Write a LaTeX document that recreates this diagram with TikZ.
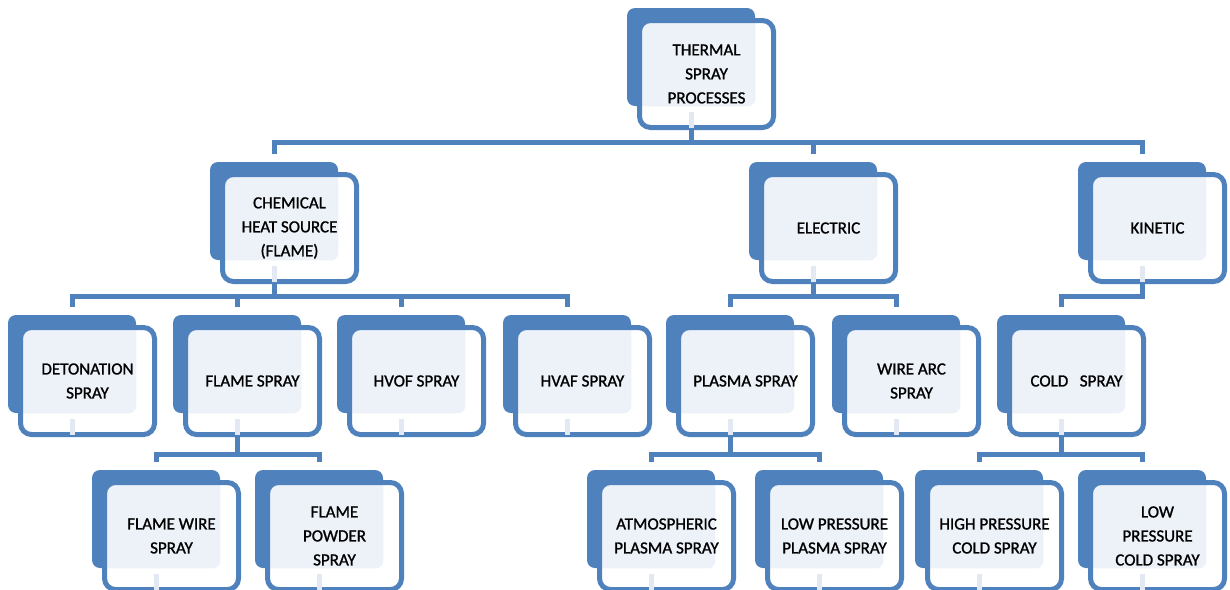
\documentclass[tikz,border=0pt]{standalone}
\usepackage{fontspec}
\setmainfont{Carlito}[FakeBold=1.2]
\usepackage{tikz}
\usetikzlibrary{calc}
\definecolor{boxblue}{HTML}{4F81BD}
\definecolor{boxlight}{HTML}{EDF2F9}
\definecolor{boxghost}{HTML}{E2E9F3}
\tikzset{
  backbox/.style={rectangle, fill=boxblue, rounded corners=4pt,
    minimum width=64pt, minimum height=49pt, inner sep=0pt},
  frontbox/.style={rectangle, draw=boxblue, line width=2.5pt, fill=white,
    rounded corners=5.5pt, minimum width=67pt, minimum height=53.5pt,
    inner sep=0pt, align=center, font=\fontsize{8.5}{12}\selectfont},
  conn/.style={draw=boxblue, line width=2.5pt},
}
% name, left, top (of the back box), text
\newcommand{\tsbox}[4]{%
  \node[backbox] (#1-b) at ({#2+64},{#3+49}) {};
  \node[frontbox, path picture={\fill[boxlight, rounded corners=4pt]
    (#1-b.south west) rectangle (#1-b.north east);}]
    (#1) at ({#2+79.5},{#3+66}) {#4};
  \draw[conn, draw=boxghost] ($(#1-b.south)+(0,6)$) -- ($(#1-b |- #1.south)+(0,-2.5)$);
}

\begin{document}
\begin{tikzpicture}[x=0.5pt, y=-0.5pt]
    \useasboundingbox (0,0) rectangle (1230,589);

    \tsbox{tsp}{627}{8}{THERMAL\\SPRAY\\PROCESSES}

    \tsbox{chem}{210}{162}{CHEMICAL\\HEAT SOURCE\\(FLAME)}
    \tsbox{elec}{749}{162}{ELECTRIC}
    \tsbox{kin}{1078}{162}{KINETIC}

    \tsbox{deton}{8}{315}{DETONATION\\SPRAY}
    \tsbox{flame}{173}{315}{FLAME SPRAY}
    \tsbox{hvof}{337}{315}{HVOF SPRAY}
    \tsbox{hvaf}{503}{315}{HVAF SPRAY}
    \tsbox{plasma}{666}{315}{PLASMA SPRAY}
    \tsbox{wirearc}{832}{315}{WIRE ARC\\SPRAY}
    \tsbox{cold}{997}{315}{COLD\ \ \ SPRAY}

    \tsbox{fwire}{92}{470}{FLAME WIRE\\SPRAY}
    \tsbox{fpowder}{255}{470}{FLAME\\POWDER\\SPRAY}
    \tsbox{aps}{587}{470}{ATMOSPHERIC\\PLASMA SPRAY}
    \tsbox{lpps}{755}{470}{LOW PRESSURE\\PLASMA SPRAY}
    \tsbox{hpcs}{915}{470}{HIGH PRESSURE\\COLD SPRAY}
    \tsbox{lpcs}{1078}{470}{LOW\\PRESSURE\\COLD SPRAY}

    % connectors
    \draw[conn] (tsp-b |- tsp.south) -- ++(0,12) -| ([yshift=4pt]chem-b.north);
    \draw[conn] (tsp-b |- tsp.south) -- ++(0,12) -| ([yshift=4pt]elec-b.north);
    \draw[conn] (tsp-b |- tsp.south) -- ++(0,12) -| ([yshift=4pt]kin-b.north);

    \draw[conn] (chem-b |- chem.south) -- ++(0,12) -| ([yshift=4pt]deton-b.north);
    \draw[conn] (chem-b |- chem.south) -- ++(0,12) -| ([yshift=4pt]flame-b.north);
    \draw[conn] (chem-b |- chem.south) -- ++(0,12) -| ([yshift=4pt]hvof-b.north);
    \draw[conn] (chem-b |- chem.south) -- ++(0,12) -| ([yshift=4pt]hvaf-b.north);

    \draw[conn] (elec-b |- elec.south) -- ++(0,12) -| ([yshift=4pt]plasma-b.north);
    \draw[conn] (elec-b |- elec.south) -- ++(0,12) -| ([yshift=4pt]wirearc-b.north);

    \draw[conn] (kin-b |- kin.south) -- ++(0,12) -| ([yshift=4pt]cold-b.north);

    \draw[conn] (flame-b |- flame.south) -- ++(0,17.5) -| ([yshift=4pt]fwire-b.north);
    \draw[conn] (flame-b |- flame.south) -- ++(0,17.5) -| ([yshift=4pt]fpowder-b.north);

    \draw[conn] (plasma-b |- plasma.south) -- ++(0,17.5) -| ([yshift=4pt]aps-b.north);
    \draw[conn] (plasma-b |- plasma.south) -- ++(0,17.5) -| ([yshift=4pt]lpps-b.north);

    \draw[conn] (cold-b |- cold.south) -- ++(0,17.5) -| ([yshift=4pt]hpcs-b.north);
    \draw[conn] (cold-b |- cold.south) -- ++(0,17.5) -| ([yshift=4pt]lpcs-b.north);
\end{tikzpicture}
\end{document}
